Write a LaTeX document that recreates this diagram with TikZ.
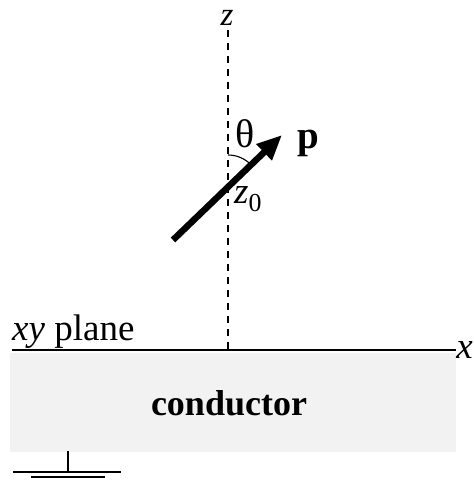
\documentclass[tikz,border=0pt]{standalone}
\usepackage{fontspec}
\setmainfont{Liberation Serif}
\usetikzlibrary{arrows.meta}
\begin{document}
\begin{tikzpicture}[x=1pt,y=-1pt,
  axis/.style={line width=1.3pt,black},
  zaxis/.style={line width=1.4pt,dash pattern=on 7pt off 6pt},
  lbl/.style={inner sep=0pt,font=\fontsize{37}{40}\selectfont},
  dipole/.style={line width=6.5pt,-{Triangle[length=25pt,width=21pt]}},
  gnd/.style={line width=1.3pt}]
\useasboundingbox (0,0) rectangle (473,481);
% conductor region
\fill[black!5] (10,353) rectangle (456,452);
% axes
\coordinate (ztop) at (228,30);
\coordinate (orig) at (228,350);
\coordinate (xl) at (12,350);
\coordinate (xr) at (456,350);
\draw[zaxis] (ztop) -- (orig);
\draw[axis] (xl) -- (xr);
\node[lbl,anchor=base,font=\fontsize{33}{36}\selectfont] (zlab) at (227,26) {\textit{z}};
\node[lbl,anchor=base east] (xlab) at (473,358) {\textit{x}};
\node[lbl,anchor=base west] (plane) at (12,340) {\textit{xy} plane};
% dipole
\coordinate (tail) at (173,240);
\coordinate (tip) at (282,135);
\coordinate (cross) at (228,187);
\draw[dipole] (tail) -- (tip);
\draw[line width=1.1pt] (cross) ++(-90:32) arc[start angle=-90,end angle=-45,radius=32];
\node[lbl,anchor=base,font=\fontsize{40}{44}\selectfont] (theta) at (245,148) {θ};
\node[lbl,anchor=base west,font=\fontsize{39}{42}\selectfont\bfseries] (p) at (297,149) {p};
\node[lbl,anchor=base west] (z0) at (234,203) {\textit{z}\textsubscript{0}};
% conductor label
\node[lbl,anchor=base,font=\fontsize{36}{40}\selectfont\bfseries] (cond) at (229,415) {conductor};
% ground symbol
\coordinate (g1) at (68,451);
\coordinate (g2) at (68,472);
\coordinate (gl1) at (13,472);
\coordinate (gl2) at (121,472);
\coordinate (gs1) at (31,477);
\coordinate (gs2) at (105,477);
\draw[gnd] (g1) -- (g2);
\draw[gnd] (gl1) -- (gl2);
\draw[gnd] (gs1) -- (gs2);
\end{tikzpicture}
\end{document}
